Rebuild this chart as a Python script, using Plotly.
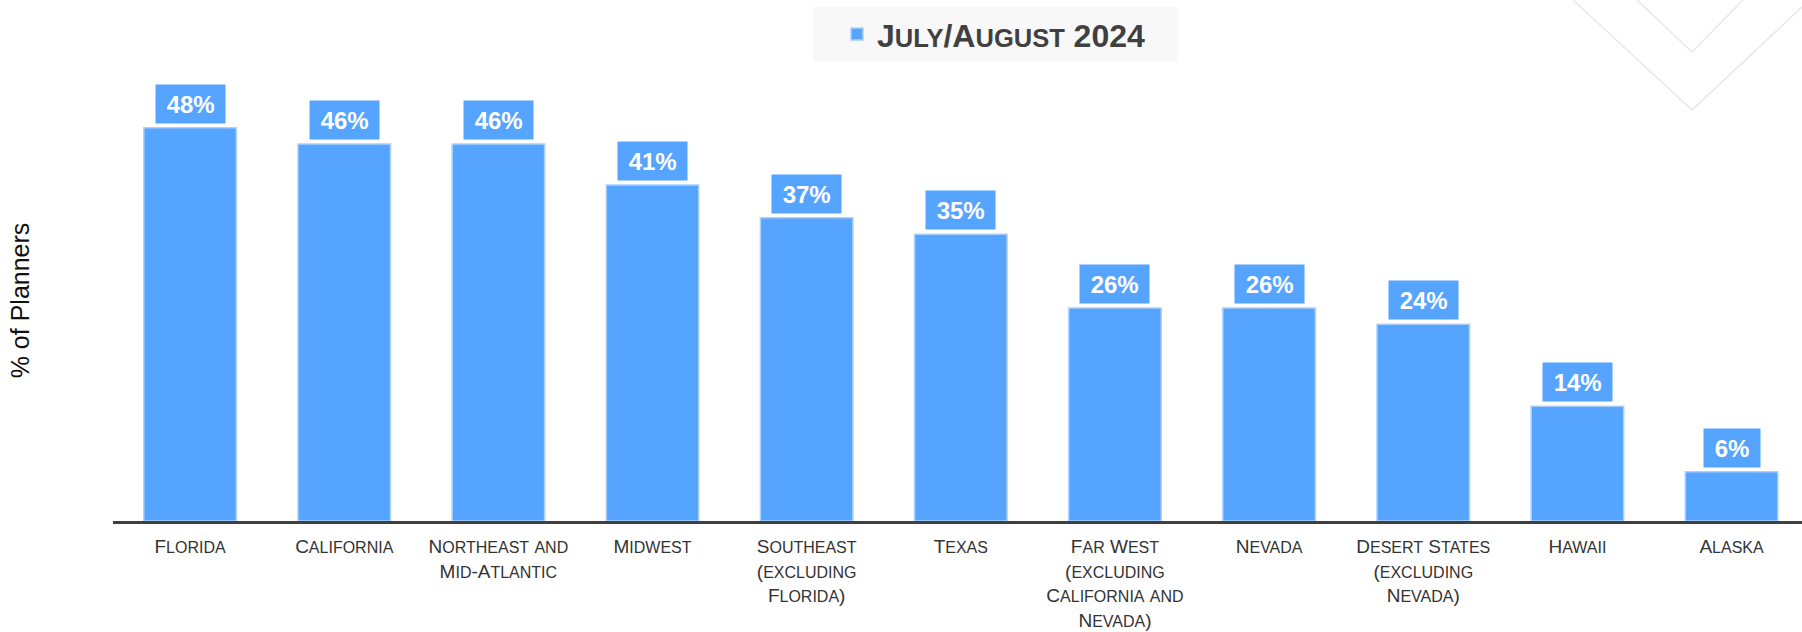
import plotly.graph_objects as go

# ---- data ----
regions = ["Florida", "California", "Northeast and Mid-Atlantic", "Midwest",
           "Southeast (excluding Florida)", "Texas",
           "Far West (excluding California and Nevada)", "Nevada",
           "Desert States (excluding Nevada)", "Hawaii", "Alaska"]
tick_labels = ["Florida", "California", "Northeast and<br>Mid-Atlantic", "Midwest",
               "Southeast<br>(excluding<br>Florida)", "Texas",
               "Far West<br>(excluding<br>California and<br>Nevada)", "Nevada",
               "Desert States<br>(excluding<br>Nevada)", "Hawaii", "Alaska"]
pct_planners = [48, 46, 46, 41, 37, 35, 26, 26, 24, 14, 6]
series_name = "July/August 2024"
y_title = "% of Planners"

BLUE = "#55A4FF"
DARK = "#404040"


def small_caps(text, small_px):
    """Render lowercase letters as reduced-size capitals (small caps)."""
    lines = []
    for line in text.split("<br>"):
        out, run, run_small = [], "", None
        for ch in line:
            is_small = ch.islower()
            if run_small is None or is_small == run_small:
                run += ch.upper() if is_small else ch
            else:
                out.append((run_small, run))
                run = ch.upper() if is_small else ch
            run_small = is_small
        if run:
            out.append((run_small, run))
        lines.append("".join(
            f'<span style="font-size:{small_px}px">{r}</span>' if s else r
            for s, r in out))
    return "<br>".join(lines)


fig = go.Figure()
fig.add_trace(go.Bar(
    x=regions, y=pct_planners, name=small_caps(series_name, 25.5),
    marker=dict(color=BLUE, line=dict(color="#A9D0FF", width=1.5)),
    width=0.6, showlegend=True, hoverinfo="x+y",
))

for r, v in zip(regions, pct_planners):
    fig.add_annotation(
        x=r, y=v, xref="x", yref="y", yanchor="bottom", yshift=4,
        text=f"\u00a0{v}%\u00a0", showarrow=False,
        bgcolor=BLUE, borderpad=4, height=30,
        font=dict(family="Liberation Sans, Arial, sans-serif", size=24,
                  color="white", weight="bold"),
    )

# decorative chevrons (top right)
for pts in ([(1573, 0), (1692, 110), (1802, 7)], [(1637, 0), (1692, 52), (1743, 0)]):
    fig.add_shape(type="path", xref="paper", yref="paper", layer="below",
                  path=" ".join(
                      f"{'M' if i == 0 else 'L'} {(x - 113) / 1689:.5f},{(521 - y) / 441:.5f}"
                      for i, (x, y) in enumerate(pts)),
                  line=dict(color="#E8E8E8", width=1.5))

fig.update_layout(
    width=1802, height=632,
    margin=dict(l=113, r=0, t=80, b=111, autoexpand=False),
    paper_bgcolor="white", plot_bgcolor="rgba(0,0,0,0)",
    bargap=0.4,
    font=dict(family="Liberation Sans, Arial, sans-serif", color=DARK),
    showlegend=True,
    legend=dict(
        orientation="h", x=0.5225, xanchor="center", y=1.166, yanchor="top",
        bgcolor="#F8F8F8", borderwidth=0, indentation=24,
        font=dict(size=32, color=DARK, weight="bold"),
        entrywidth=296, entrywidthmode="pixels",
    ),
    xaxis=dict(
        type="category", categoryorder="array", categoryarray=regions,
        tickmode="array", tickvals=regions,
        ticktext=[small_caps(t, 16) for t in tick_labels],
        range=[-0.5, 10.457], showgrid=False, zeroline=False,
        showline=True, linecolor=DARK, linewidth=3, ticks="",
        ticklabelstandoff=6, automargin=False,
        tickfont=dict(size=19, color="#333333"),
        fixedrange=True,
    ),
    yaxis=dict(
        range=[0, 53.82], showgrid=False, zeroline=False, showline=False,
        showticklabels=False, ticks="", automargin=False,
        title=dict(text=y_title, font=dict(size=25, color="#111111"), standoff=75),
        fixedrange=True,
    ),
)

fig.write_html("out.html", config={"displayModeBar": False},
               post_script="document.body.style.margin='0';")
